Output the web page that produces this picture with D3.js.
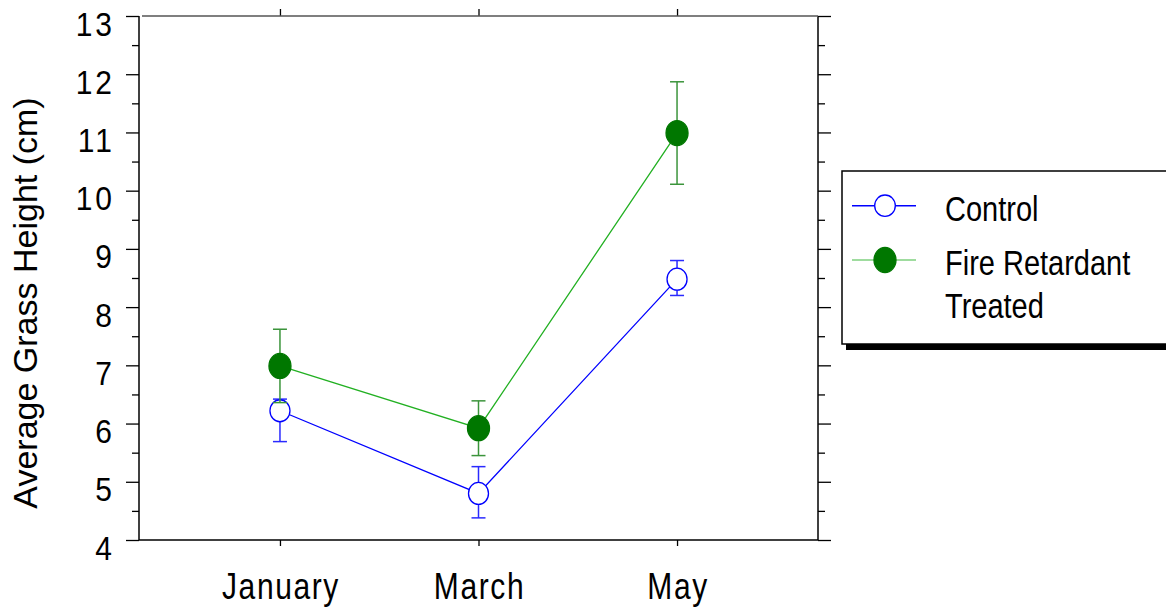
<!DOCTYPE html>
<html>
<head>
<meta charset="utf-8">
<script src="https://cdn.jsdelivr.net/npm/d3@7"></script>
<style>
  body { margin: 0; background: #fff; }
  svg { display: block; }
  text { font-family: "Liberation Sans", Arial, sans-serif; fill: #000; }
</style>
</head>
<body>
<svg id="chart" width="1166" height="609"></svg>
<script>
// data
const months = ["January", "March", "May"];
const controlMean = [6.22, 4.80, 8.48];
const controlErrLow = [0.53, 0.42, 0.28];
const controlErrHigh = [0.20, 0.46, 0.32];
const treatedMean = [6.99, 5.92, 10.99];
const treatedErr = [0.63, 0.47, 0.88];
const yMajor = d3.range(4, 14);
const yMinor = d3.range(4.5, 13, 1);
const legendLabels = [["Control"], ["Fire Retardant", "Treated"]];

const svg = d3.select("#chart");
const plotL = 139, plotR = 818, plotT = 16, plotB = 540;

const x = d3.scalePoint().domain(months).range([plotL, plotR]).padding(0.71);
const y = d3.scaleLinear().domain([4, 13]).range([plotB, plotT]);

function ticks(axis, tr) {
  const g = svg.append("g").attr("transform", tr).call(axis);
  g.select(".domain").remove();
  g.selectAll("line").attr("stroke", "#000").attr("stroke-width", 1.3);
  return g;
}

// ticks on all four sides
ticks(d3.axisLeft(y).tickValues(yMajor).tickSize(13).tickFormat(""), `translate(${plotL},0)`);
ticks(d3.axisLeft(y).tickValues(yMinor).tickSize(7).tickFormat(""), `translate(${plotL},0)`);
ticks(d3.axisRight(y).tickValues(yMajor).tickSize(13).tickFormat(""), `translate(${plotR},0)`);
ticks(d3.axisRight(y).tickValues(yMinor).tickSize(7).tickFormat(""), `translate(${plotR},0)`);
ticks(d3.axisBottom(x).tickSize(6).tickFormat(""), `translate(0,${plotB})`);
ticks(d3.axisTop(x).tickSize(7).tickFormat(""), `translate(0,${plotT})`);

// frame
svg.append("line").attr("x1", plotL).attr("x2", plotL).attr("y1", plotT).attr("y2", plotB)
  .attr("stroke", "#000").attr("stroke-width", 1.5);
svg.append("line").attr("x1", plotL).attr("x2", plotR).attr("y1", plotB).attr("y2", plotB)
  .attr("stroke", "#000").attr("stroke-width", 1.5);
svg.append("line").attr("x1", plotR).attr("x2", plotR).attr("y1", plotT).attr("y2", plotB)
  .attr("stroke", "#000").attr("stroke-width", 1.5);
svg.append("line").attr("x1", plotL + 3).attr("x2", plotR).attr("y1", plotT).attr("y2", plotT)
  .attr("stroke", "#555").attr("stroke-width", 1.5);

// y tick labels (slightly tall type like the original)
svg.append("g").selectAll("text").data(yMajor).join("text")
  .attr("transform", d => `translate(115,${y(d) + 19.5}) scale(1,1.12)`)
  .attr("text-anchor", "end")
  .style("font-size", "30px")
  .style("letter-spacing", "3px")
  .text(d => d);

// x labels
svg.append("g").selectAll("text").data(months).join("text")
  .attr("transform", d => `translate(${x(d) + 1},599) scale(1,1.2)`)
  .attr("text-anchor", "middle")
  .style("font-size", "30px")
  .style("letter-spacing", "1.6px")
  .text(d => d);

// y title
svg.append("text")
  .attr("transform", "translate(36.5,303) rotate(-90)")
  .attr("text-anchor", "middle")
  .style("font-size", "34px")
  .text("Average Grass Height (cm)");

function drawSeries(mean, lo, hi, opt) {
  const g = svg.append("g");
  const pts = months.map((m, i) => ({ m, v: mean[i], lo: lo[i], hi: hi[i] }));
  // error bars
  pts.forEach(p => {
    const cx = x(p.m), y1 = y(p.v - p.lo), y2 = y(p.v + p.hi);
    g.append("line").attr("x1", cx).attr("x2", cx).attr("y1", y1).attr("y2", y2)
      .attr("stroke", opt.err).attr("stroke-width", 1.5);
    [y1, y2].forEach(yy => g.append("line")
      .attr("x1", cx - 7).attr("x2", cx + 7).attr("y1", yy).attr("y2", yy)
      .attr("stroke", opt.err).attr("stroke-width", 1.5));
  });
  g.append("path").datum(pts)
    .attr("d", d3.line().x(d => x(d.m)).y(d => y(d.v)))
    .attr("fill", "none").attr("stroke", opt.line).attr("stroke-width", 1.3);
  g.selectAll("ellipse").data(pts).join("ellipse")
    .attr("cx", d => x(d.m)).attr("cy", d => y(d.v))
    .attr("rx", opt.rx).attr("ry", opt.ry)
    .attr("fill", opt.fill).attr("stroke", opt.stroke).attr("stroke-width", 1.3);
}

drawSeries(controlMean, controlErrLow, controlErrHigh,
  { err: "#2a2aff", line: "#0000ff", fill: "#fff", stroke: "#0000ff", rx: 10, ry: 11 });
drawSeries(treatedMean, treatedErr, treatedErr,
  { err: "#3b943b", line: "#22b022", fill: "#007700", stroke: "#007700", rx: 11, ry: 12.5 });

// legend
const lg = svg.append("g");
lg.append("rect").attr("x", 846).attr("y", 177).attr("width", 340).attr("height", 173).attr("fill", "#000");
lg.append("rect").attr("x", 842).attr("y", 171).attr("width", 340).attr("height", 173)
  .attr("fill", "#fff").attr("stroke", "#000").attr("stroke-width", 1.5);

const legendItems = [
  { lineY: 205.7, line: "#0000ff", fill: "#fff", stroke: "#0000ff", rx: 10.3, ry: 10.7, base: [221] },
  { lineY: 260, line: "#7fd07f", fill: "#007700", stroke: "#007700", rx: 11, ry: 12.5, base: [275, 318] }
];
legendItems.forEach((it, i) => {
  lg.append("line").attr("x1", 852).attr("x2", 916).attr("y1", it.lineY).attr("y2", it.lineY)
    .attr("stroke", it.line).attr("stroke-width", 1.5);
  lg.append("ellipse").attr("cx", 885).attr("cy", it.lineY).attr("rx", it.rx).attr("ry", it.ry)
    .attr("fill", it.fill).attr("stroke", it.stroke).attr("stroke-width", 1.3);
  legendLabels[i].forEach((t, j) => {
    lg.append("text")
      .attr("transform", `translate(945,${it.base[j]}) scale(1,1.2)`)
      .style("font-size", "29px")
      .text(t);
  });
});
</script>
</body>
</html>
